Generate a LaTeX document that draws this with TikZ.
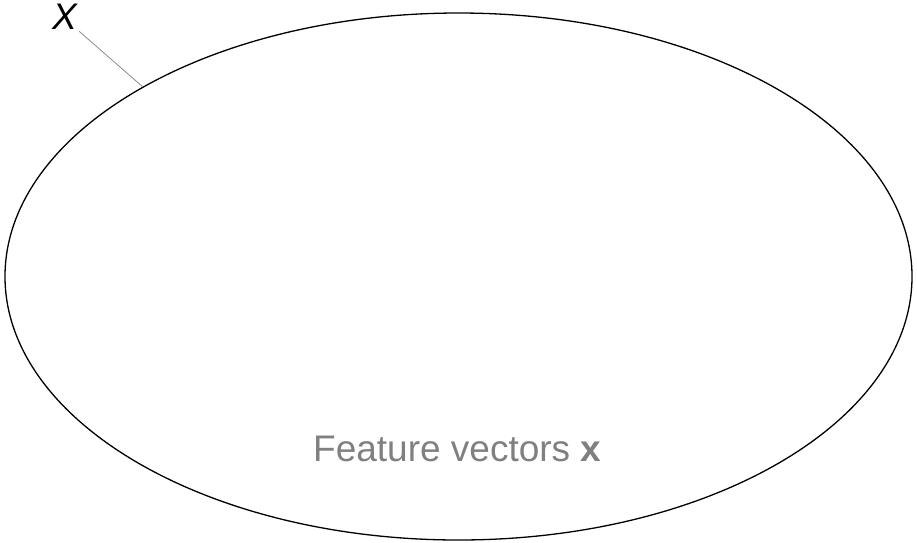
\documentclass[tikz,border=0pt]{standalone}
\usepackage{fontspec}
\setmainfont{Liberation Sans}
\usetikzlibrary{shapes.geometric}
\begin{document}
\begin{tikzpicture}[x=1pt,y=-1pt,
  setshape/.style={draw=black, line width=1.3pt, ellipse, inner sep=0pt,
    minimum width=907pt, minimum height=527pt},
  setname/.style={font=\fontsize{37}{44}\selectfont\itshape, inner sep=2pt},
  caption/.style={font=\fontsize{37}{44}\selectfont, text=black!50, inner sep=0pt},
  leader/.style={draw=black!45, line width=0.8pt}]
  \useasboundingbox (0,0) rectangle (917,542);
  % the feature space
  \node[setshape] (space) at (458.5,276.5) {};
  \node[caption, anchor=base west] (feat) at (313,461) {Feature vectors \textbf{x}};
  % its name with a leader line to the boundary
  \node[setname, anchor=base] (X) at (64.5,29) {X};
  \draw[leader] (X.south east) -- (space.149.8);
\end{tikzpicture}
\end{document}
